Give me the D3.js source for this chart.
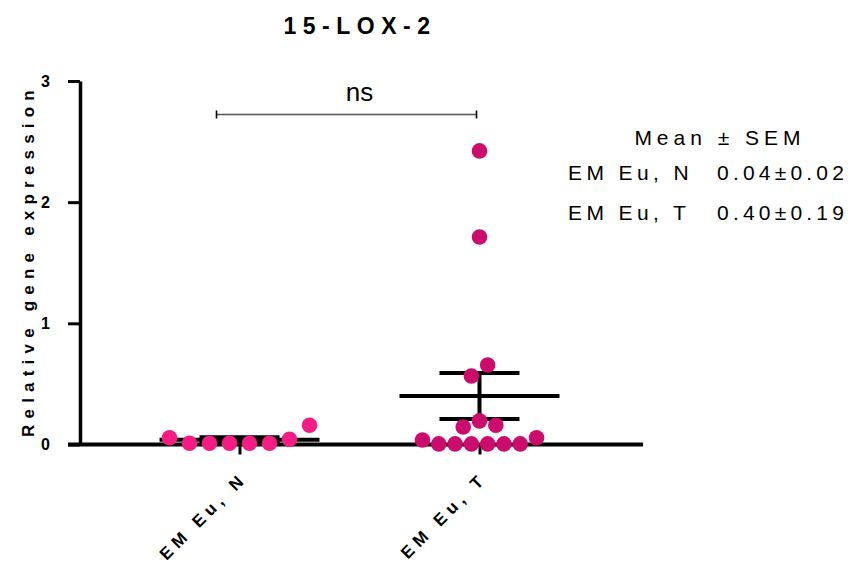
<!DOCTYPE html>
<html>
<head>
<meta charset="utf-8">
<script src="https://cdn.jsdelivr.net/npm/d3@7"></script>
<style>
  html, body { margin: 0; padding: 0; background: #fff; }
  svg { display: block; font-family: "Liberation Sans", Arial, sans-serif; }
</style>
</head>
<body>
<script>
// ---- data ----
const categories = ["EM Eu, N", "EM Eu, T"];
const meanValues = [0.04, 0.40];
const semValues = [0.02, 0.19];
// individual samples, grouped into horizontal rows of the scatter
const normalRows = [[0.056, 0.01, 0.01, 0.01, 0.01, 0.01, 0.043, 0.159]];
const tumorRows = [
  [0.037, 0.005, 0.005, 0.005, 0.005, 0.005, 0.005, 0.056],
  [0.145, 0.195, 0.159],
  [0.565, 0.656],
  [1.713],
  [2.423]
];
const yTicks = [0, 1, 2, 3];
const titleText = "15-LOX-2";
const yLabel = "Relative gene expression";
const sigLabel = "ns";
const legendTitle = "Mean \u00B1 SEM";

// ---- layout / style ----
const W = 851, H = 563;
const dotColors = ["#F51C84", "#CC0C6C"];
const dotGap = [20, 16.3];
const dotR = 7.8;
const meanHalf = 80, capHalf = 40;

const svg = d3.select("body").append("svg").attr("width", W).attr("height", H);

const y = d3.scaleLinear().domain([0, 3]).range([444.5, 81]);
const x = d3.scalePoint().domain(categories).range([119.5, 599.5]).padding(0.5);

// title
svg.append("text")
  .attr("x", 360).attr("y", 34)
  .attr("text-anchor", "middle")
  .attr("font-size", 23).attr("font-weight", "bold")
  .attr("letter-spacing", 6.5)
  .text(titleText);

// y axis
const yAxis = svg.append("g").attr("transform", "translate(80,0)")
  .call(d3.axisLeft(y).tickValues(yTicks).tickFormat(d3.format("d"))
    .tickSize(12).tickPadding(18).tickSizeOuter(0));
yAxis.select(".domain").attr("stroke", "#000").attr("stroke-width", 3.5);
yAxis.selectAll(".tick line").attr("stroke", "#000").attr("stroke-width", 3);
yAxis.selectAll(".tick text").attr("font-size", 16).attr("font-weight", "bold")
  .attr("font-family", "Liberation Sans, Arial, sans-serif").attr("fill", "#000");

// y label
svg.append("text")
  .attr("transform", "translate(34,260.5) rotate(-90)")
  .attr("text-anchor", "middle")
  .attr("font-size", 17).attr("font-weight", "bold")
  .attr("letter-spacing", 6.2)
  .text(yLabel);

// x axis
const xAxis = svg.append("g").attr("transform", `translate(0,${y(0)})`)
  .call(d3.axisBottom(x).tickSize(10).tickSizeOuter(0));
xAxis.select(".domain").remove();
xAxis.selectAll(".tick line").attr("stroke", "#000").attr("stroke-width", 3);
xAxis.selectAll(".tick text")
  .attr("font-size", 17).attr("font-weight", "bold")
  .attr("font-family", "Liberation Sans, Arial, sans-serif").attr("fill", "#000")
  .attr("letter-spacing", 5.2)
  .attr("text-anchor", "end")
  .attr("y", 0).attr("dy", 0)
  .attr("transform", "translate(8,35) rotate(-45)");
svg.append("line")
  .attr("x1", 68).attr("x2", 643)
  .attr("y1", y(0)).attr("y2", y(0))
  .attr("stroke", "#000").attr("stroke-width", 4);

// mean and SEM bars
const stats = categories.map((c, i) => ({ c, m: meanValues[i], s: semValues[i] }));
const bars = svg.append("g").attr("stroke", "#000").attr("stroke-width", 4);
stats.forEach(d => {
  const cx = x(d.c);
  bars.append("line").attr("x1", cx - meanHalf).attr("x2", cx + meanHalf)
    .attr("y1", y(d.m)).attr("y2", y(d.m));
  bars.append("line").attr("x1", cx).attr("x2", cx)
    .attr("y1", y(d.m + d.s)).attr("y2", y(Math.max(0, d.m - d.s)));
  [d.m + d.s, d.m - d.s].forEach(v => {
    bars.append("line").attr("x1", cx - capHalf).attr("x2", cx + capHalf)
      .attr("y1", y(v)).attr("y2", y(v));
  });
});

// dots: each row is spread horizontally around the group centre
const groups = [normalRows, tumorRows];
const points = [];
groups.forEach((rows, gi) => {
  rows.forEach(row => {
    row.forEach((v, k) => {
      points.push({ g: gi, v, off: (k - (row.length - 1) / 2) * dotGap[gi] });
    });
  });
});
svg.append("g").selectAll("circle").data(points).join("circle")
  .attr("cx", d => x(categories[d.g]) + d.off)
  .attr("cy", d => y(d.v))
  .attr("r", dotR)
  .attr("fill", d => dotColors[d.g]);

// significance bracket
const bx1 = x(categories[0]) - 23, bx2 = x(categories[1]) - 3, by = 114.5;
svg.append("line").attr("x1", bx1).attr("x2", bx2).attr("y1", by).attr("y2", by)
  .attr("stroke", "#555").attr("stroke-width", 1.3);
[bx1, bx2].forEach(bx => svg.append("line")
  .attr("x1", bx).attr("x2", bx).attr("y1", by - 4).attr("y2", by + 4)
  .attr("stroke", "#000").attr("stroke-width", 1.6));
svg.append("text")
  .attr("x", (x(categories[0]) + x(categories[1])) / 2).attr("y", 101)
  .attr("text-anchor", "middle").attr("font-size", 26)
  .text(sigLabel);

// legend: mean ± SEM per group
const fmt = d3.format(".2f");
const legend = svg.append("g").attr("font-size", 21).attr("letter-spacing", 4.4);
legend.append("text").attr("x", 720).attr("y", 145).attr("text-anchor", "middle")
  .attr("letter-spacing", 5).text(legendTitle);
const rowY = [180, 220];
stats.forEach((d, i) => {
  legend.append("text").attr("x", 568).attr("y", rowY[i]).text(d.c);
  legend.append("text").attr("x", 717).attr("y", rowY[i]).attr("letter-spacing", 4.2)
    .text(`${fmt(d.m)}\u00B1${fmt(d.s)}`);
});
</script>
</body>
</html>
